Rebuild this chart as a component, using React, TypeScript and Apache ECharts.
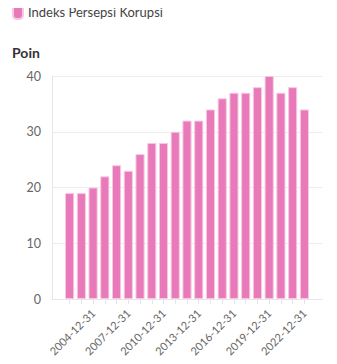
import React, { useEffect, useRef } from "react";
import * as echarts from "echarts";

const categories: string[] = [
  "2002-12-31", "2003-12-31", "2004-12-31", "2005-12-31", "2006-12-31", "2007-12-31",
  "2008-12-31", "2009-12-31", "2010-12-31", "2011-12-31", "2012-12-31", "2013-12-31",
  "2014-12-31", "2015-12-31", "2016-12-31", "2017-12-31", "2018-12-31", "2019-12-31",
  "2020-12-31", "2021-12-31", "2022-12-31",
];
const values: number[] = [19, 19, 20, 22, 24, 23, 26, 28, 28, 30, 32, 32, 34, 36, 37, 37, 38, 40, 37, 38, 34];
const yTicks: number[] = [0, 10, 20, 30, 40];
const seriesName = "Indeks Persepsi Korupsi";
const yTitle = "Poin";

export default function App() {
  const ref = useRef<HTMLDivElement>(null);
  useEffect(() => {
    if (!ref.current) return;
    const chart = echarts.init(ref.current, null, { renderer: "svg" });
    // pad with empty categories at both ends to reproduce the outer padding
    const cats = ["", ...categories, " "];
    const data: (number | null)[] = [null, ...values, null];
    const isLabelled = (i: number) => i >= 1 && i <= categories.length && (i - 1) % 3 === 2;
    const isReal = (i: number) => i >= 1 && i <= categories.length;
    const font = "Lato, 'Open Sans', sans-serif";
    chart.setOption({
      animation: false,
      textStyle: { fontFamily: font },
      title: {
        text: yTitle,
        left: 12,
        top: 45,
        padding: 0,
        textStyle: { fontSize: 14, fontWeight: "bold", color: "#333", fontFamily: font },
      },
      legend: {
        left: 12,
        top: 4,
        padding: 0,
        icon: "path://M4,0 L6,0 Q10,0 10,4 L10,10 Q10,14 6,14 L4,14 Q0,14 0,10 L0,4 Q0,0 4,0 Z",
        itemWidth: 10,
        itemHeight: 14,
        textStyle: { fontSize: 13, color: "#444", fontFamily: font },
        data: [seriesName],
      },
      grid: { left: 52, right: 15, top: 76, bottom: 65, containLabel: false },
      xAxis: {
        type: "category",
        data: cats,
        boundaryGap: true,
        axisLine: { show: true, lineStyle: { color: "#e6e6e6" } },
        axisTick: {
          show: true,
          alignWithLabel: true,
          length: 5,
          interval: (i: number) => isReal(i),
          lineStyle: { color: "#e6e6e6" },
        },
        axisLabel: {
          interval: (i: number) => isLabelled(i),
          rotate: 45,
          fontSize: 11,
          color: "#666",
          margin: 12,
          fontFamily: font,
        },
        splitLine: { show: false },
      },
      yAxis: {
        type: "value",
        min: yTicks[0],
        max: yTicks[yTicks.length - 1],
        interval: 10,
        axisLine: { show: true, lineStyle: { color: "#e6e6e6" } },
        axisTick: { show: false },
        axisLabel: { fontSize: 12.5, color: "#666", margin: 11, fontFamily: font },
        splitLine: { show: true, lineStyle: { color: "#ececec" } },
      },
      series: [
        {
          name: seriesName,
          type: "bar",
          data,
          barCategoryGap: "22%",
          itemStyle: {
            color: "#e87aba",
            borderColor: "#f7c9e4",
            borderWidth: 1,
          },
        },
      ],
    });
    return () => chart.dispose();
  }, []);
  return <div ref={ref} style={{ width: 337, height: 364, margin: -8 }} />;
}
